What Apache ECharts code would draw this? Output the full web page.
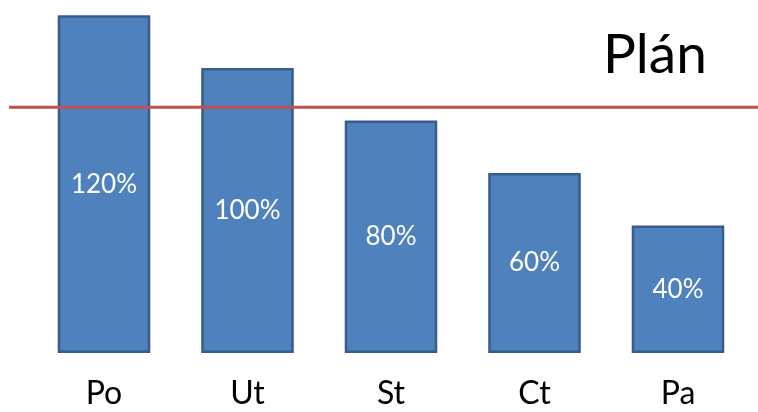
<!DOCTYPE html>
<html>
<head>
<meta charset="utf-8">
<script src="https://cdn.jsdelivr.net/npm/echarts@6/dist/echarts.min.js"></script>
<style>
  html, body { margin: 0; padding: 0; background: #fff; }
  #chart { width: 758px; height: 412px; }
</style>
</head>
<body>
<div id="chart"></div>
<script>
// Performance by group, shown against the plan level
const categories = ['Po', 'Ut', 'St', 'Ct', 'Pa'];
const performance = [120, 100, 80, 60, 40];
const planLevel = 85;
const planLabel = 'Plán';

const Y_MIN = -8.5;
const Y_MAX = 124.7;
const BAR_RATIO = 0.645;
const FONT = 'Lato, "Open Sans", sans-serif';

const chart = echarts.init(document.getElementById('chart'), null, { renderer: 'canvas' });

chart.setOption({
  animation: false,
  title: {
    text: planLabel,
    left: 598,
    top: 23,
    textStyle: { fontFamily: FONT, fontSize: 55, fontWeight: 'normal', color: '#000' }
  },
  grid: [
    { left: 32.25, width: 717.5, top: 3, bottom: 59 },
    { left: 9, right: 0, top: 3, bottom: 59 }
  ],
  xAxis: [
    {
      type: 'category',
      gridIndex: 0,
      data: categories,
      axisLine: { show: false },
      axisTick: { show: false },
      axisLabel: { margin: 25, fontFamily: FONT, fontSize: 32, color: '#000' }
    },
    { type: 'category', gridIndex: 1, data: ['', ''], boundaryGap: false, show: false }
  ],
  yAxis: [
    { type: 'value', gridIndex: 0, min: Y_MIN, max: Y_MAX, show: false },
    { type: 'value', gridIndex: 1, min: Y_MIN, max: Y_MAX, show: false }
  ],
  series: [
    {
      type: 'custom',
      xAxisIndex: 0,
      yAxisIndex: 0,
      data: performance.map((v, i) => [i, v]),
      renderItem(params, api) {
        const i = api.value(0);
        const v = api.value(1);
        const top = api.coord([i, v]);
        const base = api.coord([i, Y_MIN]);
        const w = api.size([1, 0])[0] * BAR_RATIO;
        return {
          type: 'rect',
          shape: { x: top[0] - w / 2 + 1.25, y: top[1] + 1.25, width: w - 2.5, height: base[1] - top[1] - 2.5 },
          style: { fill: '#4F81BD', stroke: '#385D8A', lineWidth: 2.5 },
          textContent: {
            style: { text: v + '%', fill: '#fff', fontFamily: FONT, fontSize: 26 }
          },
          textConfig: { position: 'inside' }
        };
      }
    },
    {
      type: 'line',
      xAxisIndex: 1,
      yAxisIndex: 1,
      data: [planLevel, planLevel],
      symbol: 'none',
      lineStyle: { color: '#C0504D', width: 3 }
    }
  ]
});
</script>
</body>
</html>
